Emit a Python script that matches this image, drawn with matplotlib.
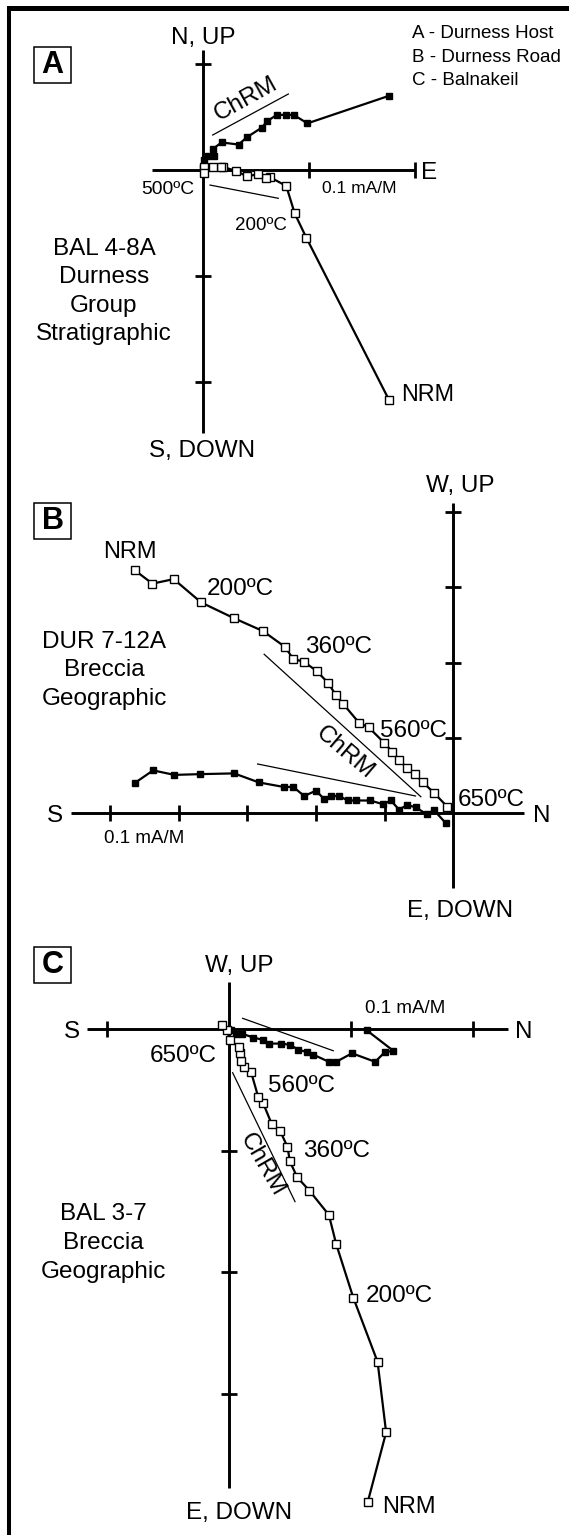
import matplotlib
matplotlib.use("Agg")
import matplotlib.pyplot as plt
from matplotlib.patches import Rectangle

plt.rcParams['font.family'] = ['Liberation Sans', 'DejaVu Sans']

# Zijderveld data, mA/M. *_h_* = horizontal projection (filled), *_v_* = vertical (open)
TICK = 0.1

# A - Durness Host, BAL 4-8A (E, N) / (E, Up)
a_h_e = [0.176, 0.099, 0.086, 0.079, 0.070, 0.061, 0.056, 0.042, 0.034, 0.018, 0.010, 0.011, 0.005, 0.001, 0.000]
a_h_n = [0.070, 0.044, 0.052, 0.052, 0.052, 0.046, 0.040, 0.031, 0.024, 0.026, 0.020, 0.013, 0.013, 0.009, 0.002]
a_v_e = [0.176, 0.098, 0.087, 0.079, 0.064, 0.060, 0.052, 0.042, 0.032, 0.019, 0.017, 0.010, 0.001, 0.001]
a_v_up = [-0.217, -0.064, -0.041, -0.015, -0.007, -0.008, -0.004, -0.006, -0.001, 0.003, 0.003, 0.003, 0.003, -0.003]
a_fit_h = ([0.0096, 0.081], [0.033, 0.0717])
a_fit_v = ([0.0071, 0.0715], [-0.0142, -0.0267])

# B - Durness Road, DUR 7-12A (N, W) / (N, Up)
b_h_n = [-0.464, -0.437, -0.406, -0.369, -0.319, -0.283, -0.247, -0.233, -0.217, -0.200, -0.188, -0.178,
         -0.166, -0.154, -0.141, -0.121, -0.102, -0.091, -0.079, -0.067, -0.055, -0.039, -0.028, -0.011]
b_h_w = [0.040, 0.057, 0.051, 0.052, 0.053, 0.041, 0.035, 0.035, 0.023, 0.030, 0.019, 0.023,
         0.023, 0.017, 0.017, 0.017, 0.012, 0.017, 0.005, 0.011, 0.008, -0.001, 0.004, -0.013]
b_v_n = [-0.464, -0.438, -0.407, -0.367, -0.319, -0.277, -0.245, -0.233, -0.217, -0.199, -0.182, -0.171,
         -0.160, -0.137, -0.123, -0.101, -0.089, -0.079, -0.067, -0.056, -0.044, -0.028, -0.009]
b_v_up = [0.323, 0.305, 0.311, 0.280, 0.259, 0.242, 0.221, 0.205, 0.201, 0.189, 0.173, 0.157,
          0.145, 0.120, 0.114, 0.094, 0.082, 0.071, 0.060, 0.052, 0.041, 0.027, 0.009]
b_fit_v = ([-0.2753, -0.0472], [0.2112, 0.0220])
b_fit_h = ([-0.2849, -0.0550], [0.0655, 0.0230])

# C - Balnakeil, BAL 3-7 (N, W) / (N, Up)
c_h_n = [0.113, 0.135, 0.128, 0.120, 0.101, 0.088, 0.082, 0.069, 0.064, 0.057, 0.050, 0.043,
         0.033, 0.028, 0.020, 0.011, 0.006, 0.002]
c_h_w = [-0.001, -0.018, -0.019, -0.027, -0.020, -0.027, -0.027, -0.021, -0.019, -0.017, -0.013, -0.012,
         -0.012, -0.009, -0.007, -0.004, -0.004, -0.001]
c_v_n = [0.114, 0.129, 0.122, 0.102, 0.088, 0.082, 0.066, 0.056, 0.050, 0.048, 0.042, 0.035,
         0.028, 0.024, 0.018, 0.012, 0.010, 0.009, 0.008, 0.001, -0.002, -0.006]
c_v_up = [-0.389, -0.332, -0.274, -0.221, -0.177, -0.153, -0.133, -0.122, -0.109, -0.097, -0.084, -0.078,
          -0.061, -0.056, -0.035, -0.031, -0.026, -0.020, -0.015, -0.009, -0.001, 0.003]
c_fit_h = ([0.0112, 0.0856], [0.0088, -0.0179])
c_fit_v = ([0.0030, 0.0542], [-0.0360, -0.1421])

W, H = 569, 1535
fig = plt.figure(figsize=(W / 100, H / 100), dpi=100)

# pixel-space overlay for frame and text
ov = fig.add_axes([0, 0, 1, 1])
ov.set_xlim(0, W)
ov.set_ylim(H, 0)
ov.axis('off')


def panel(ox, oy, tpx_x, tpx_y):
    sx = tpx_x / TICK
    sy = tpx_y / TICK
    ax = fig.add_axes([0, 0, 1, 1], facecolor='none')
    ax.set_xlim(-ox / sx, (W - ox) / sx)
    ax.set_ylim((oy - H) / sy, oy / sy)
    ax.axis('off')
    return ax


def cross(ax, xr, yr, xt, yt):
    ax.plot(xr, [0, 0], color='k', lw=2.1, solid_capstyle='butt', zorder=1)
    ax.plot([0, 0], yr, color='k', lw=2.1, solid_capstyle='butt', zorder=1)
    ax.plot(xt, [0] * len(xt), ls='none', marker='|', ms=12, mew=2, color='k', zorder=1)
    ax.plot([0] * len(yt), yt, ls='none', marker='_', ms=12, mew=2, color='k', zorder=1)


def demag(ax, hx, hy, vx, vy, fits, ms_open, ms_fill):
    ax.plot(hx, hy, color='k', lw=1.6, marker='s', ms=ms_fill, mfc='k', mec='k', zorder=3)
    ax.plot(vx, vy, color='k', lw=1.6, marker='s', ms=ms_open, mfc='white', mec='k', mew=1.0, zorder=4)
    for fx, fy in fits:
        ax.plot(fx, fy, color='k', lw=0.9, zorder=2)


axA = panel(202.5, 170, 106, 106)
cross(axA, [-0.0473, 0.2], [-0.248, 0.113], [0.1, 0.2], [0.1, -0.1, -0.2])
demag(axA, a_h_e, a_h_n, a_v_e, a_v_up, [a_fit_h, a_fit_v], 6.0, 4.8)

axB = panel(453.3, 813.3, 68.7, 75.3)
cross(axB, [-0.5568, 0.1029], [-0.0992, 0.4117], [-0.1, -0.2, -0.3, -0.4, -0.5], [0.1, 0.2, 0.3, 0.4])
demag(axB, b_h_n, b_h_w, b_v_n, b_v_up, [b_fit_h, b_fit_v], 6.4, 5.0)

axC = panel(229, 1029, 121.8, 121.5)
cross(axC, [-0.1168, 0.229], [-0.378, 0.0389], [-0.1, 0.1, 0.2], [-0.1, -0.2, -0.3])
demag(axC, c_h_n, c_h_w, c_v_n, c_v_up, [c_fit_h, c_fit_v], 6.2, 4.8)

# frame (only top and left edges are visible)
ov.plot([9, W], [7.5, 7.5], color='k', lw=3.6, solid_capstyle='butt')
ov.plot([9, 9], [5.5, H], color='k', lw=2.9, solid_capstyle='butt')

BIG = 17.5


def t(x, y, s, size=BIG, ha='left', **kw):
    ov.text(x, y, s, fontsize=size, ha=ha, va='baseline', **kw)


# panel letters
for letter, top in [('A', 46.7), ('B', 502.7), ('C', 946.7)]:
    ov.add_patch(Rectangle((34.5, top), 36.3, 36.3, fill=False, ec='k', lw=1.1))
    ov.text(52.6, top + 18.5, letter, fontsize=22, fontweight='bold', ha='center', va='center')

# legend
for i, s in enumerate(['A - Durness Host', 'B - Durness Road', 'C - Balnakeil']):
    t(411.7, 38.3 + i * 23.3, s, size=13.5)

# panel A
t(203, 44, 'N, UP', ha='center')
t(202, 457, 'S, DOWN', ha='center')
t(421, 178.7, 'E')
t(194, 194, '500ºC', size=13.9, ha='right')
t(359, 193.3, '0.1 mA/M', size=12.5, ha='center')
t(235, 230, '200ºC', size=13.5)
t(401, 401, 'NRM', size=16.8)
for i, s in enumerate(['BAL 4-8A', 'Durness', 'Group', 'Stratigraphic']):
    t(104, 255 + i * 28.3, s, ha='center')
ov.text(245.7, 99, 'ChRM', fontsize=BIG, rotation=29, rotation_mode='anchor', ha='center', va='center')

# panel B
t(460, 491.7, 'W, UP', ha='center')
t(460, 917, 'E, DOWN', ha='center')
t(54.6, 821.7, 'S', ha='center')
t(542, 821.7, 'N', ha='center')
t(144, 842.7, '0.1 mA/M', size=13.5, ha='center')
t(103.4, 558.3, 'NRM', size=17)
t(206.7, 595, '200ºC')
t(305, 653.3, '360ºC')
t(380, 736.7, '560ºC')
t(458, 806, '650ºC')
for i, s in enumerate(['DUR 7-12A', 'Breccia', 'Geographic']):
    t(104.4, 648.3 + i * 28.2, s, ha='center')
ov.text(345, 753, 'ChRM', fontsize=BIG, rotation=-40.5, rotation_mode='anchor', ha='center', va='center')

# panel C
t(239, 972, 'W, UP', ha='center')
t(239, 1519, 'E, DOWN', ha='center')
t(71.7, 1037.7, 'S', ha='center')
t(524, 1037.7, 'N', ha='center')
t(405.5, 1013, '0.1 mA/M', size=13.5, ha='center')
t(216.7, 1061.7, '650ºC', ha='right')
t(268.3, 1091.7, '560ºC')
t(302.7, 1156.7, '360ºC')
t(365.7, 1301.7, '200ºC')
t(381.7, 1513, 'NRM', size=17)
for i, s in enumerate(['BAL 3-7', 'Breccia', 'Geographic']):
    t(103.6, 1220 + i * 29, s, ha='center')
ov.text(262, 1165, 'ChRM', fontsize=BIG, rotation=-60, rotation_mode='anchor', ha='center', va='center')

fig.savefig('out.png', dpi=100, facecolor='white')
